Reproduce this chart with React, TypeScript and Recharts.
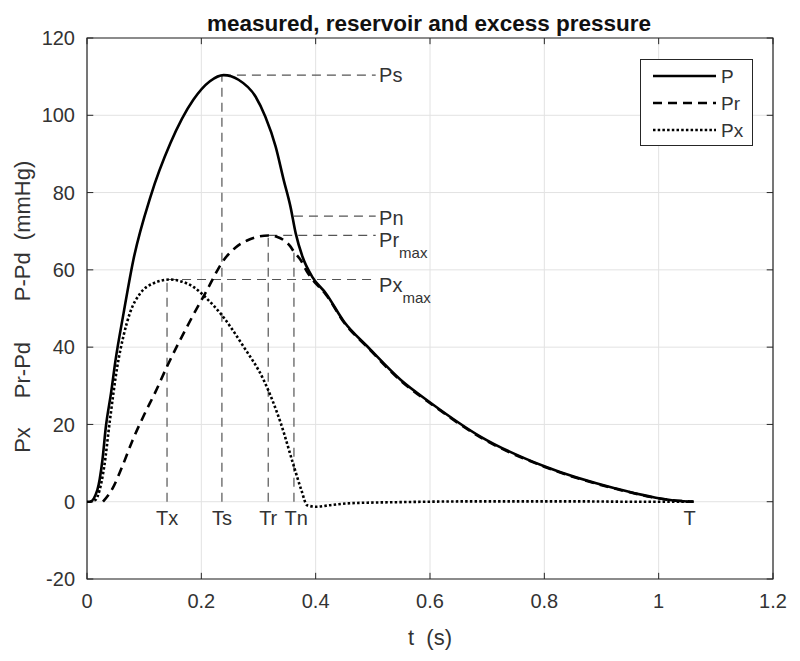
import React from 'react';
import { LineChart, Line, XAxis, YAxis, CartesianGrid, ReferenceLine, ReferenceDot, ReferenceArea } from 'recharts';

// measured pressure P (above diastolic)
const pTime = [0, 0.005, 0.018, 0.027, 0.033, 0.042, 0.05, 0.064, 0.081, 0.111, 0.146, 0.186, 0.215, 0.239, 0.265, 0.295, 0.312, 0.33, 0.344, 0.356, 0.365, 0.377, 0.394, 0.418, 0.45, 0.491, 0.549, 0.602, 0.689, 0.801, 0.923, 1.023, 1.061];
const pValues = [0, 0, 3, 10.8, 19.4, 28.1, 36.7, 48.8, 62.5, 78.9, 92.8, 104, 108.8, 110.4, 109.2, 104.8, 99.6, 91.9, 83.3, 76.3, 69.5, 63.4, 58.2, 53.9, 46.5, 40.1, 31.5, 25.5, 16.8, 9.1, 3.5, 0.4, 0];

// reservoir pressure Pr
const prTime = [0.028, 0.045, 0.06, 0.08, 0.1, 0.12, 0.14, 0.175, 0.21, 0.239, 0.26, 0.28, 0.3, 0.317, 0.333, 0.344, 0.355, 0.362, 0.374, 0.385, 0.394, 0.418, 0.45, 0.491, 0.549, 0.602, 0.689, 0.801, 0.923, 1.023, 1.061];
const prValues = [0, 3.5, 8.5, 16, 22.5, 28.5, 35, 45.3, 54.8, 62.5, 65.8, 67.6, 68.6, 68.9, 68.5, 67.7, 66.2, 64.7, 62.5, 59.5, 57.6, 53.6, 46.3, 39.9, 31.3, 25.3, 16.6, 9, 3.4, 0.4, 0];

// excess pressure Px
const pxTime = [0.005, 0.015, 0.022, 0.03, 0.04, 0.053, 0.064, 0.075, 0.093, 0.116, 0.145, 0.165, 0.186, 0.21, 0.233, 0.274, 0.309, 0.339, 0.362, 0.375, 0.385, 0.4, 0.43, 0.46, 0.55, 0.7, 0.85, 0.95, 1.061];
const pxValues = [0, 0.5, 3, 9, 21, 35, 43, 48.8, 53.9, 56.5, 57.5, 57, 55.6, 52.5, 48.8, 40.1, 31.5, 20.3, 9.1, 3, -0.9, -1.3, -0.8, -0.4, -0.1, 0.1, 0.1, 0, 0];

const xTicks = [0, 0.2, 0.4, 0.6, 0.8, 1, 1.2];
const yTicks = [-20, 0, 20, 40, 60, 80, 100, 120];

// characteristic times and pressures
const markTimes = { Tx: 0.14, Ts: 0.236, Tr: 0.317, Tn: 0.362, T: 1.061 };
const markPress = { Ps: 110.4, Pn: 73.9, PrMax: 68.9, PxMax: 57.5, PrTn: 65 };
const guideEnd = 0.505;

const pData = pTime.map((t, i) => ({ t, v: pValues[i] }));
const prData = prTime.map((t, i) => ({ t, v: prValues[i] }));
const pxData = pxTime.map((t, i) => ({ t, v: pxValues[i] }));

const FONT = '"Liberation Sans", Arial, Helvetica, sans-serif';
const AX = '#262626';
const GUIDE = '#555';

const guides = [
  [{ x: markTimes.Ts, y: 0 }, { x: markTimes.Ts, y: markPress.Ps }],
  [{ x: markTimes.Ts, y: markPress.Ps }, { x: guideEnd, y: markPress.Ps }],
  [{ x: markTimes.Tx, y: 0 }, { x: markTimes.Tx, y: markPress.PxMax }],
  [{ x: markTimes.Tx, y: markPress.PxMax }, { x: guideEnd, y: markPress.PxMax }],
  [{ x: markTimes.Tr, y: 0 }, { x: markTimes.Tr, y: markPress.PrMax }],
  [{ x: markTimes.Tr, y: markPress.PrMax }, { x: guideEnd, y: markPress.PrMax }],
  [{ x: markTimes.Tn, y: 0 }, { x: markTimes.Tn, y: markPress.PrTn }],
  [{ x: markTimes.Tn, y: markPress.Pn }, { x: guideEnd, y: markPress.Pn }],
];

// label anchors in data units
const labels = [
  { x: markTimes.Tx, y: -4.2, text: 'Tx', anchor: 'middle' },
  { x: markTimes.Ts, y: -4.2, text: 'Ts', anchor: 'middle' },
  { x: markTimes.Tr, y: -4.2, text: 'Tr', anchor: 'middle' },
  { x: 0.366, y: -4.2, text: 'Tn', anchor: 'middle' },
  { x: 1.054, y: -4.2, text: 'T', anchor: 'middle' },
  { x: 0.511, y: 110.4, text: 'Ps', anchor: 'start' },
  { x: 0.511, y: 73.4, text: 'Pn', anchor: 'start' },
  { x: 0.511, y: 67.8, text: 'Pr', anchor: 'start', sub: 'max' },
  { x: 0.511, y: 56.2, text: 'Px', anchor: 'start', sub: 'max' },
];

const tickLenX = 0.011;
const tickLenY = 1.6;

function Label(props: any, l: any) {
  return (
    <text x={props.cx} y={props.cy} dy={7} textAnchor={l.anchor} fill="#333" fontSize={20} fontFamily={FONT}>
      {l.text}
      {l.sub && <tspan dy={11} fontSize={15}>{l.sub}</tspan>}
    </text>
  );
}

export default function App() {
  return (
    <div style={{ position: 'absolute', left: 0, top: 0, width: 800, height: 661, background: '#fff' }}>
      <LineChart width={800} height={661} margin={{ top: 38, right: 27, left: 0, bottom: 52 }}>
        <CartesianGrid stroke="#e2e2e2" strokeWidth={1} />
        <XAxis dataKey="t" type="number" domain={[0, 1.2]} ticks={xTicks} height={30} tickLine={false} axisLine={false} tickMargin={9}
          tick={{ fill: '#333', fontSize: 20, fontFamily: FONT }} allowDataOverflow />
        <YAxis type="number" domain={[-20, 120]} ticks={yTicks} width={87} tickLine={false} axisLine={false} tickMargin={6}
          tick={{ fill: '#333', fontSize: 20, fontFamily: FONT }} allowDataOverflow />
        <ReferenceArea x1={0} x2={1.2} y1={-20} y2={120} fill="none" fillOpacity={0} stroke={AX} strokeWidth={1.2} />
        {xTicks.map((t) => (
          <ReferenceLine key={'xb' + t} segment={[{ x: t, y: -20 }, { x: t, y: -20 + tickLenY }]} stroke={AX} />
        ))}
        {xTicks.map((t) => (
          <ReferenceLine key={'xt' + t} segment={[{ x: t, y: 120 }, { x: t, y: 120 - tickLenY }]} stroke={AX} />
        ))}
        {yTicks.map((v) => (
          <ReferenceLine key={'yl' + v} segment={[{ x: 0, y: v }, { x: tickLenX, y: v }]} stroke={AX} />
        ))}
        {yTicks.map((v) => (
          <ReferenceLine key={'yr' + v} segment={[{ x: 1.2, y: v }, { x: 1.2 - tickLenX, y: v }]} stroke={AX} />
        ))}
        {guides.map((seg, i) => (
          <ReferenceLine key={'g' + i} segment={seg} stroke={GUIDE} strokeWidth={1.2} strokeDasharray="9 6" />
        ))}
        <Line data={prData} dataKey="v" type="monotone" stroke="#000" strokeWidth={2.6} strokeDasharray="9 6" dot={false} activeDot={false} isAnimationActive={false} />
        <Line data={pxData} dataKey="v" type="monotone" stroke="#000" strokeWidth={2.6} strokeDasharray="2.5 2.2" dot={false} activeDot={false} isAnimationActive={false} />
        <Line data={pData} dataKey="v" type="monotone" stroke="#000" strokeWidth={2.6} dot={false} activeDot={false} isAnimationActive={false} />
        {labels.map((l) => (
          <ReferenceDot key={l.text} x={l.x} y={l.y} r={0} shape={(p: any) => Label(p, l)} />
        ))}
      </LineChart>
      <svg width={800} height={661} style={{ position: 'absolute', left: 0, top: 0, pointerEvents: 'none' }}>
        <text x={429} y={31} textAnchor="middle" fontSize={22.5} fontWeight="bold" fontFamily={FONT} fill="#111">
          measured, reservoir and excess pressure
        </text>
        <text x={430} y={645} textAnchor="middle" fontSize={22} fontFamily={FONT} fill="#333" style={{ whiteSpace: 'pre' }}>
          {'t  (s)'}
        </text>
        <text x={30} y={231} transform="rotate(-90 30 231)" textAnchor="middle" fontSize={22} fontFamily={FONT} fill="#333" style={{ whiteSpace: 'pre' }}>
          {'P-Pd  (mmHg)'}
        </text>
        <text x={30} y={370} transform="rotate(-90 30 370)" textAnchor="middle" fontSize={22} fontFamily={FONT} fill="#333">
          Pr-Pd
        </text>
        <text x={30} y={440} transform="rotate(-90 30 440)" textAnchor="middle" fontSize={22} fontFamily={FONT} fill="#333">
          Px
        </text>
        <rect x={640.5} y={59.5} width={112} height={86} fill="#fff" stroke={AX} strokeWidth={1} />
        <line x1={653} x2={716} y1={76} y2={76} stroke="#000" strokeWidth={2.6} />
        <line x1={653} x2={716} y1={103} y2={103} stroke="#000" strokeWidth={2.6} strokeDasharray="9 6" />
        <line x1={653} x2={716} y1={130} y2={130} stroke="#000" strokeWidth={2.6} strokeDasharray="2.5 2.2" />
        <text x={721} y={83} fontSize={19} fontFamily={FONT} fill="#333">P</text>
        <text x={721} y={110} fontSize={19} fontFamily={FONT} fill="#333">Pr</text>
        <text x={721} y={137} fontSize={19} fontFamily={FONT} fill="#333">Px</text>
      </svg>
    </div>
  );
}
